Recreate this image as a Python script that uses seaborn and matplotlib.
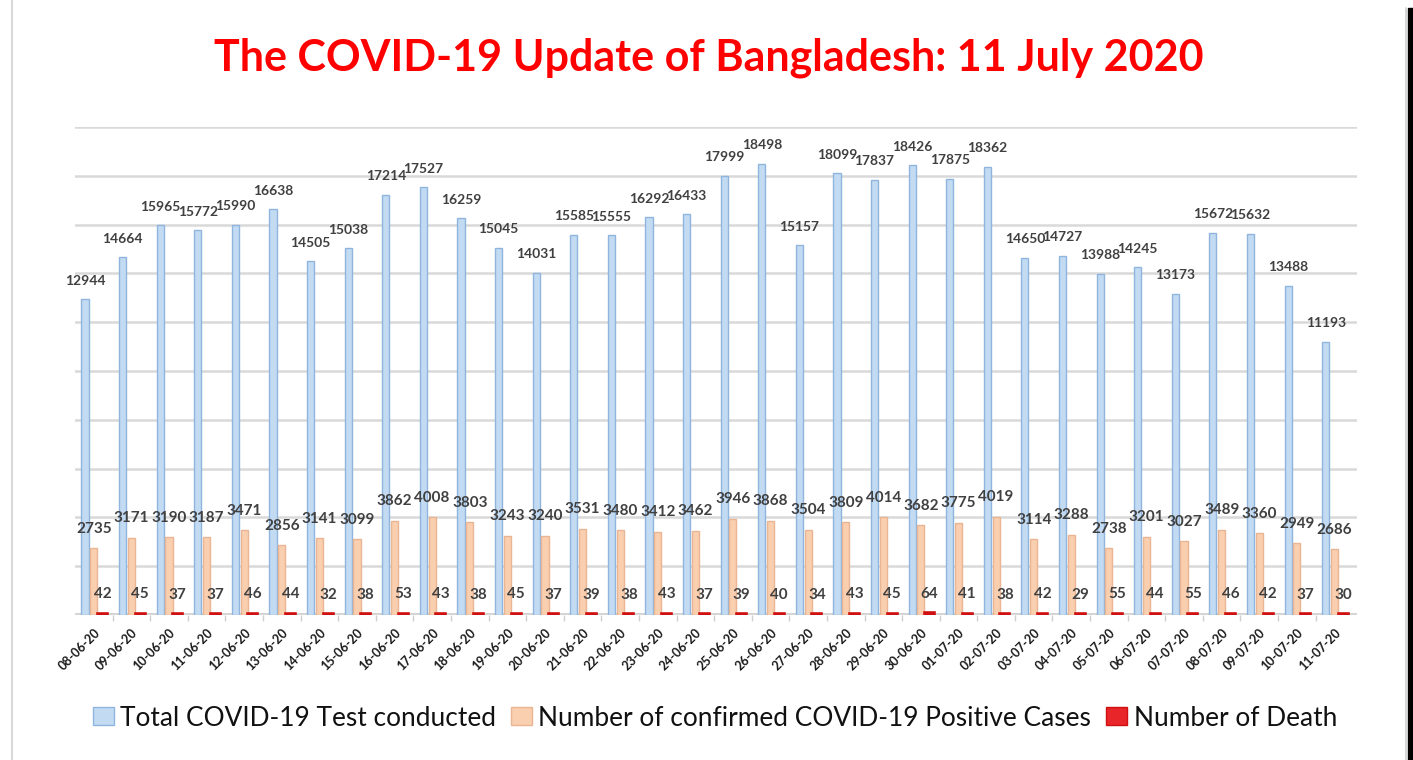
import matplotlib
matplotlib.use("Agg")
import matplotlib.pyplot as plt
import seaborn as sns
import pandas as pd
import numpy as np
from matplotlib.lines import Line2D
from matplotlib.patches import Patch, Rectangle

dates = ["08-06-20", "09-06-20", "10-06-20", "11-06-20", "12-06-20", "13-06-20", "14-06-20",
         "15-06-20", "16-06-20", "17-06-20", "18-06-20", "19-06-20", "20-06-20", "21-06-20",
         "22-06-20", "23-06-20", "24-06-20", "25-06-20", "26-06-20", "27-06-20", "28-06-20",
         "29-06-20", "30-06-20", "01-07-20", "02-07-20", "03-07-20", "04-07-20", "05-07-20",
         "06-07-20", "07-07-20", "08-07-20", "09-07-20", "10-07-20", "11-07-20"]
tests = [12944, 14664, 15965, 15772, 15990, 16638, 14505, 15038, 17214, 17527, 16259, 15045,
         14031, 15585, 15555, 16292, 16433, 17999, 18498, 15157, 18099, 17837, 18426, 17875,
         18362, 14650, 14727, 13988, 14245, 13173, 15672, 15632, 13488, 11193]
positives = [2735, 3171, 3190, 3187, 3471, 2856, 3141, 3099, 3862, 4008, 3803, 3243, 3240,
             3531, 3480, 3412, 3462, 3946, 3868, 3504, 3809, 4014, 3682, 3775, 4019, 3114,
             3288, 2738, 3201, 3027, 3489, 3360, 2949, 2686]
deaths = [42, 45, 37, 37, 46, 44, 32, 38, 53, 43, 38, 45, 37, 39, 38, 43, 37, 39, 40, 34,
          43, 45, 64, 41, 38, 42, 29, 55, 44, 55, 46, 42, 37, 30]
series_names = ["Total COVID-19 Test conducted",
                "Number of confirmed COVID-19 Positive Cases",
                "Number of Death"]
title = "The COVID-19 Update of Bangladesh: 11 July 2020"

fills = ["#c3dbf2", "#f9cfb0", "#e8262a"]
edges = ["#8fb5de", "#e9b592", "#d01010"]

sns.set_theme(style="white")
plt.rcParams['font.family'] = ['Lato', 'DejaVu Sans']

df = pd.DataFrame({
    "date": dates * 3,
    "series": [series_names[0]] * len(dates) + [series_names[1]] * len(dates) + [series_names[2]] * len(dates),
    "value": tests + positives + deaths,
})

W, H = 1413, 760
fig = plt.figure(figsize=(W / 100, H / 100), dpi=100)
fig.patch.set_facecolor("white")
ax = fig.add_axes([75 / W, (H - 615) / H, (1357 - 75) / W, (615 - 127) / H])

sns.barplot(data=df, x="date", y="value", hue="series", order=dates, hue_order=series_names,
            palette=fills, width=0.7, dodge=True, saturation=1, errorbar=None,
            legend=False, ax=ax)

bar_w = [0.19, 0.19, 0.24]
for ci, cont in enumerate(ax.containers):
    for p in cont:
        c = p.get_x() + p.get_width() / 2
        p.set_width(bar_w[ci])
        p.set_x(c - bar_w[ci] / 2)
        p.set_edgecolor(edges[ci])
        p.set_linewidth(1.0 if ci < 2 else 2.6)
        p.set_zorder(3)

label_color = "#404040"
ax.bar_label(ax.containers[0], labels=[str(v) for v in tests], padding=9,
             fontsize=10, fontweight="bold", color=label_color)
ax.bar_label(ax.containers[1], labels=[str(v) for v in positives], padding=9,
             fontsize=11, fontweight="bold", color=label_color)
ax.bar_label(ax.containers[2], labels=[str(v) for v in deaths], padding=9,
             fontsize=11, fontweight="bold", color=label_color)

ax.set_ylim(0, 20000)
ax.set_xlim(-0.5, 33.6)
ax.set_yticks(np.arange(0, 20001, 2000))
ax.set_yticklabels([])
ax.yaxis.grid(True, color="#d9d9d9", linewidth=1.8)
ax.set_axisbelow(True)
for s in ax.spines.values():
    s.set_visible(False)
ax.axhline(0, color="#d0d0d0", linewidth=3.5, zorder=0.5)
ax.set_xlabel("")
ax.set_ylabel("")
ax.tick_params(axis="y", length=0)
ax.set_xticks(range(len(dates)))
ax.set_xticks(np.arange(0.5, len(dates) - 0.5, 1.0), minor=True)
ax.tick_params(axis="x", which="major", length=0, pad=8)
ax.tick_params(axis="x", which="minor", length=4, width=1, color="#d0d0d0", direction="out",
               bottom=True)
ax.set_xticklabels(dates, rotation=45, ha="right", va="top", rotation_mode="anchor",
                   fontsize=9, fontweight="bold", color="#1a1a1a")

fig.text(709 / W, 1 - 58 / H, title, ha="center", va="center", color="#ff0000",
         fontsize=31, fontweight="bold")

handles = [Patch(facecolor=fills[i], edgecolor=edges[i], linewidth=1.0) for i in range(3)]
fig.legend(handles, series_names, loc="center", bbox_to_anchor=(715 / W, 1 - 718 / H),
           ncol=3, frameon=False, fontsize=18.9, handlelength=0.8, handleheight=0.66,
           handletextpad=0.23, columnspacing=0.58, labelcolor="#111111")

fig.add_artist(Line2D([12 / W, 12 / W], [0, 1], color="#d9d9d9", linewidth=1.5,
                      transform=fig.transFigure))
fig.add_artist(Line2D([1406 / W, 1406 / W], [0, 1 - 8 / H], color="#d0d0d0", linewidth=1.2,
                      transform=fig.transFigure))
fig.add_artist(Rectangle((1408 / W, 0), 5 / W, 1 - 8 / H, color="black",
                         transform=fig.transFigure))

fig.savefig("out.png", dpi=100, facecolor="white")
